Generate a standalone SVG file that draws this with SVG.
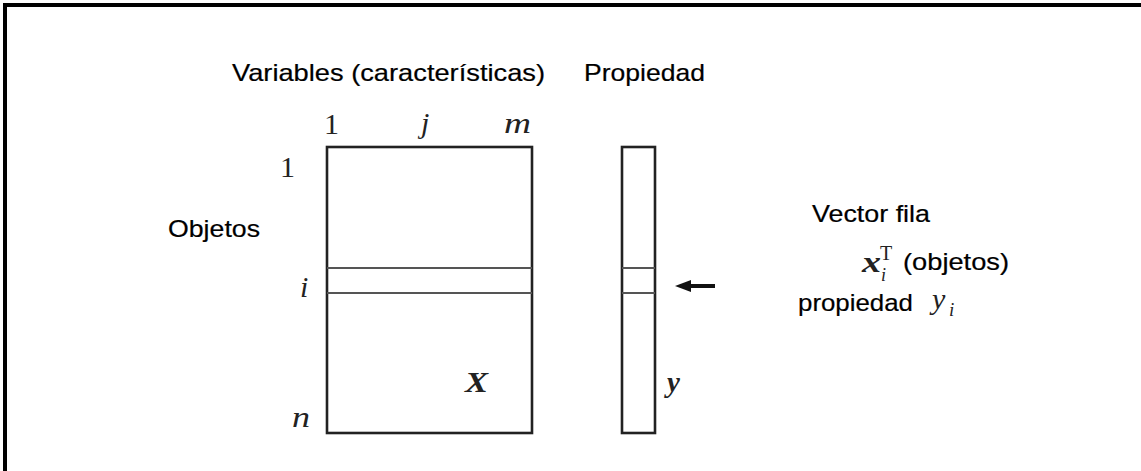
<svg xmlns="http://www.w3.org/2000/svg" width="1141" height="471" viewBox="0 0 1141 471">
  <style>
    .sans { font-family: "Liberation Sans", Arial, sans-serif; font-size: 24px; fill: #000; stroke: #000; stroke-width: 0.2; }
    .it { font-family: "Liberation Serif", "Times New Roman", serif; font-size: 30px; fill: #222; font-style: italic; }
    .up { font-family: "Liberation Serif", "Times New Roman", serif; font-size: 30px; fill: #222; font-style: normal; }
    .bi { font-family: "Liberation Serif", "Times New Roman", serif; font-size: 29px; fill: #222; font-style: italic; font-weight: bold; }
    .box { fill: none; stroke: #222; stroke-width: 2.6; }
    .row { stroke: #555; stroke-width: 2; fill: none; }
  </style>
  <rect width="1141" height="471" fill="#fff"/>
  <path d="M5,471 V5 H1141" fill="none" stroke="#000" stroke-width="4"/>

  <g id="title-labels">
    <text class="sans" x="232" y="81" textLength="313" lengthAdjust="spacingAndGlyphs">Variables (características)</text>
    <text class="sans" x="584" y="81" textLength="121" lengthAdjust="spacingAndGlyphs">Propiedad</text>
    <text class="sans" x="168" y="237" textLength="92" lengthAdjust="spacingAndGlyphs">Objetos</text>
  </g>

  <g id="matrix-X">
    <rect class="box" x="327" y="147" width="205" height="286"/>
    <line class="row" x1="327" y1="268" x2="532" y2="268"/>
    <line class="row" x1="327" y1="293" x2="532" y2="293"/>
    <text class="up" x="324" y="134">1</text>
    <text class="it" x="421" y="133">j</text>
    <text class="it" x="504" y="133" textLength="27" lengthAdjust="spacingAndGlyphs">m</text>
    <text class="up" x="280" y="177">1</text>
    <text class="it" x="300" y="297">i</text>
    <text class="it" x="292" y="427" textLength="18" lengthAdjust="spacingAndGlyphs">n</text>
    <text class="bi" x="465" y="392" textLength="23" lengthAdjust="spacingAndGlyphs">X</text>
  </g>

  <g id="vector-y">
    <rect class="box" x="622" y="147" width="33" height="286"/>
    <line class="row" x1="622" y1="268" x2="655" y2="268"/>
    <line class="row" x1="622" y1="293" x2="655" y2="293"/>
    <text class="bi" x="667" y="392">y</text>
  </g>

  <g id="connectors">
    <line x1="715" y1="286" x2="688" y2="286" stroke="#111" stroke-width="4"/>
    <polygon points="675,286 691,280 691,292" fill="#111"/>
  </g>

  <g id="row-vector-label">
    <text class="sans" x="812" y="222" textLength="118" lengthAdjust="spacingAndGlyphs">Vector fila</text>
    <text class="bi" x="862" y="272" style="font-size:30px" textLength="19" lengthAdjust="spacingAndGlyphs">x</text>
    <text class="it" x="881" y="281" style="font-size:18px">i</text>
    <text class="up" x="880" y="260" style="font-size:20px">T</text>
    <text class="sans" x="903" y="270" textLength="106" lengthAdjust="spacingAndGlyphs">(objetos)</text>
    <text class="sans" x="798" y="311" textLength="115" lengthAdjust="spacingAndGlyphs">propiedad</text>
    <text class="it" x="932" y="309" style="font-size:30px">y</text>
    <text class="it" x="949" y="316" style="font-size:19px">i</text>
  </g>
</svg>
